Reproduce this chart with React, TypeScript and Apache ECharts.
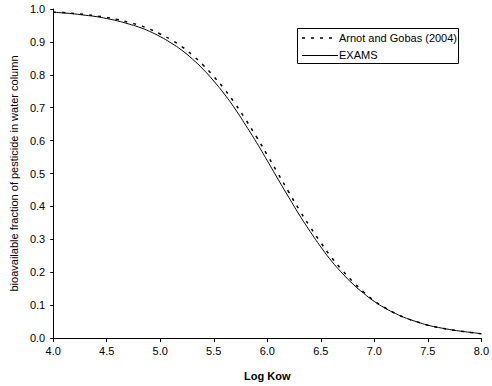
import React, { useEffect, useRef } from "react";
import * as echarts from "echarts";

const logKow = [
  4.0, 4.1, 4.2, 4.3, 4.4, 4.5, 4.6, 4.7, 4.8, 4.9,
  5.0, 5.1, 5.2, 5.3, 5.4, 5.5, 5.6, 5.7, 5.8, 5.9,
  6.0, 6.1, 6.2, 6.3, 6.4, 6.5, 6.6, 6.7, 6.8, 6.9,
  7.0, 7.1, 7.2, 7.3, 7.4, 7.5, 7.6, 7.7, 7.8, 7.9, 8.0,
];

const exams = [
  0.990, 0.988, 0.985, 0.981, 0.977, 0.971, 0.964, 0.955, 0.945, 0.932,
  0.916, 0.897, 0.875, 0.848, 0.817, 0.781, 0.741, 0.696, 0.646, 0.594,
  0.539, 0.483, 0.428, 0.374, 0.324, 0.277, 0.234, 0.197, 0.164, 0.136,
  0.111, 0.091, 0.074, 0.060, 0.049, 0.039, 0.032, 0.026, 0.021, 0.017, 0.013,
];

const arnotGobas = [
  0.990, 0.989, 0.986, 0.983, 0.979, 0.974, 0.968, 0.960, 0.951, 0.939,
  0.924, 0.907, 0.886, 0.860, 0.830, 0.795, 0.756, 0.712, 0.663, 0.611,
  0.556, 0.500, 0.444, 0.389, 0.338, 0.290, 0.245, 0.206, 0.171, 0.140,
  0.113, 0.092, 0.074, 0.060, 0.049, 0.039, 0.032, 0.026, 0.021, 0.017, 0.013,
];

const legendNames = ["Arnot and Gobas (2004)", "EXAMS"];
const xTitle = "Log Kow";
const yTitle = "bioavailable fraction of pesticide in water column";

export default function App() {
  const ref = useRef<HTMLDivElement>(null);
  useEffect(() => {
    if (!ref.current) return;
    const chart = echarts.init(ref.current, null, { renderer: "svg" });
    const font = "Liberation Sans, Arial, sans-serif";
    chart.setOption({
      animation: false,
      backgroundColor: "#ffffff",
      textStyle: { fontFamily: font },
      grid: { left: 45, right: 10, top: 9, bottom: 45, containLabel: false },
      xAxis: {
        type: "value",
        min: 4,
        max: 8,
        interval: 0.5,
        name: xTitle,
        nameLocation: "middle",
        nameGap: 32,
        nameTextStyle: { fontFamily: font, fontSize: 11, fontWeight: "bold", color: "#000" },
        axisLine: { lineStyle: { color: "#000", width: 1 } },
        axisTick: { show: true, length: 4, lineStyle: { color: "#000" } },
        axisLabel: {
          color: "#000",
          fontSize: 11,
          fontFamily: font,
          margin: 7,
          formatter: (v: number) => v.toFixed(1),
        },
        splitLine: { show: false },
      },
      yAxis: {
        type: "value",
        min: 0,
        max: 1,
        interval: 0.1,
        name: yTitle,
        nameLocation: "middle",
        nameGap: 31,
        nameRotate: 90,
        nameTextStyle: { fontFamily: font, fontSize: 11, color: "#000" },
        axisLine: { show: true, lineStyle: { color: "#000", width: 1 } },
        axisTick: { show: true, length: 3, lineStyle: { color: "#000" } },
        axisLabel: {
          color: "#000",
          fontSize: 11,
          fontFamily: font,
          margin: 8,
          formatter: (v: number) => v.toFixed(1),
        },
        splitLine: { show: false },
      },
      series: [
        {
          name: legendNames[0],
          type: "line",
          data: logKow.map((x, i) => [x, arnotGobas[i]]),
          showSymbol: false,
          symbol: "none",
          smooth: true,
          lineStyle: { color: "#000", width: 1.5, type: [3, 6] },
          z: 3,
        },
        {
          name: legendNames[1],
          type: "line",
          data: logKow.map((x, i) => [x, exams[i]]),
          showSymbol: false,
          symbol: "none",
          smooth: true,
          lineStyle: { color: "#000", width: 1 },
          z: 2,
        },
      ],
      graphic: [
        {
          type: "rect",
          shape: { x: 297.5, y: 28.5, width: 161, height: 35 },
          style: { fill: "#fff", stroke: "#000", lineWidth: 1 },
          z: 10,
        },
        {
          type: "line",
          shape: { x1: 302, y1: 38, x2: 338, y2: 38 },
          style: { stroke: "#000", lineWidth: 1.5, lineDash: [3, 6] },
          z: 11,
        },
        {
          type: "line",
          shape: { x1: 302, y1: 55.5, x2: 338, y2: 55.5 },
          style: { stroke: "#000", lineWidth: 1 },
          z: 11,
        },
        {
          type: "text",
          x: 339,
          y: 38,
          style: {
            text: legendNames[0],
            fill: "#000",
            font: "11px Liberation Sans, Arial, sans-serif",
            verticalAlign: "middle",
            align: "left",
          },
          z: 11,
        },
        {
          type: "text",
          x: 339,
          y: 55,
          style: {
            text: legendNames[1],
            fill: "#000",
            font: "11px Liberation Sans, Arial, sans-serif",
            verticalAlign: "middle",
            align: "left",
          },
          z: 11,
        },
      ],
    });
    return () => chart.dispose();
  }, []);
  return (
    <div
      ref={ref}
      style={{ position: "absolute", left: 0, top: 0, width: 492, height: 386 }}
    />
  );
}
